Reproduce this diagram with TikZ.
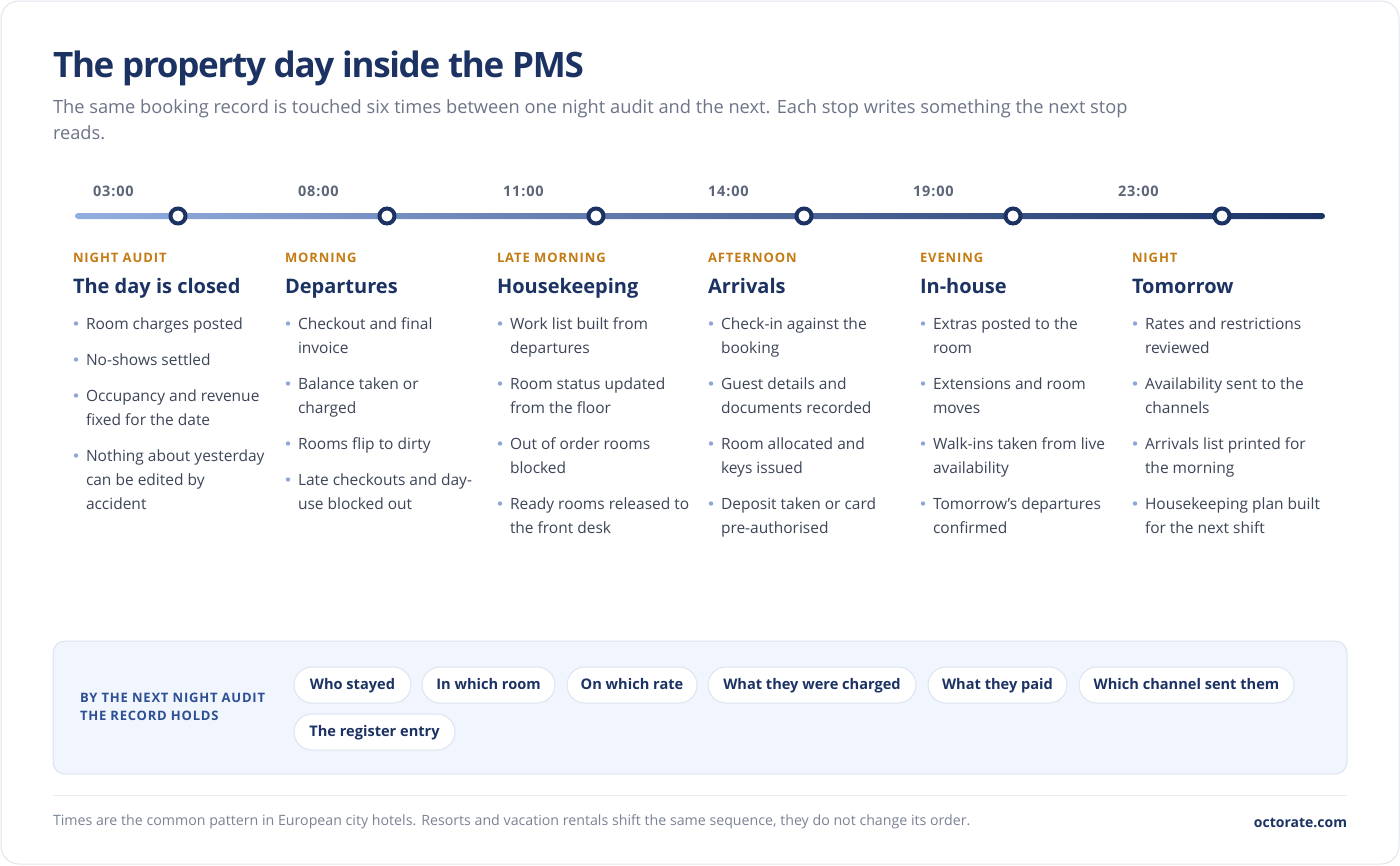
\documentclass[tikz,border=0pt]{standalone}
\usepackage{fontspec}
\setmainfont{Open Sans}
\definecolor{navy}{HTML}{1B3263}
\definecolor{orng}{HTML}{C47B14}
\definecolor{subg}{HTML}{6B7488}
\definecolor{bodyg}{HTML}{3C4558}
\definecolor{timeg}{HTML}{5D6678}
\definecolor{dotc}{HTML}{8EA6D8}
\definecolor{boxlbl}{HTML}{2D4F94}
\definecolor{boxfill}{HTML}{F1F5FD}
\definecolor{boxline}{HTML}{DDE4EF}
\definecolor{cardline}{HTML}{E3E6EE}
\definecolor{sepc}{HTML}{E8EBF0}
\definecolor{footg}{HTML}{7A8394}
\definecolor{tlL}{HTML}{93AEE0}
\definecolor{tlR}{HTML}{1B3366}
\newcounter{nc}
\newcommand{\bitem}[3]{\stepcounter{nc}%
  \fill[dotc] (#1+3,#2-5.5) circle (2.2);
  \node[btxt, anchor=base west] (b\arabic{nc}) at (#1+13,#2) {#3};}
\newcommand{\bcont}[3]{\stepcounter{nc}%
  \node[btxt, anchor=base west] (b\arabic{nc}) at (#1+13,#2) {#3};}
\begin{document}
\begin{tikzpicture}[x=1pt,y=-1pt,
  every node/.style={inner sep=0pt, outer sep=0pt},
  btxt/.style={font=\fontsize{15.5}{24}\selectfont, text=bodyg},
  timelbl/.style={font=\fontsize{14.5}{16}\selectfont\bfseries\addfontfeatures{LetterSpace=6}, text=timeg},
  phase/.style={font=\fontsize{13}{16}\selectfont\bfseries\addfontfeatures{LetterSpace=7}, text=orng},
  head/.style={font=\fontsize{20}{24}\selectfont\bfseries, text=navy},
  stop/.style={circle, draw=navy, line width=4pt, fill=white, minimum size=15pt},
  chip/.style={draw=boxline, line width=1pt, fill=white, rounded corners=18pt, minimum height=36pt,
    text height=11pt, text depth=3pt, font=\fontsize{14.6}{18}\selectfont\bfseries, text=navy}]
\useasboundingbox (0,0) rectangle (1400,865);
\fill[white] (0,0) rectangle (1400,865);
\draw[cardline, line width=1pt, fill=white, rounded corners=18pt] (1,1) rectangle (1399,864);

% title
\node[anchor=base west, font=\fontsize{35}{40}\selectfont\bfseries\addfontfeatures{LetterSpace=-3.7}, text=navy] (title) at (53,77) {The property day inside the PMS};
\node[anchor=base west, font=\fontsize{18.27}{25}\selectfont, text=subg] (sub1) at (53,113) {The same booking record is touched six times between one night audit and the next. Each stop writes something the next stop};
\node[anchor=base west, font=\fontsize{18.27}{25}\selectfont, text=subg] (sub2) at (53,139) {reads.};

% timeline
\shade[left color=tlL, right color=tlR, rounded corners=3pt] (75,213) rectangle (1325,219);
\foreach \x/\lx/\t [count=\i] in {178/93/03:00,387/298/08:00,596/503/11:00,804/708/14:00,1013/913/19:00,1222/1118/23:00}{
  \node[stop] (s\i) at (\x,216) {};
  \node[timelbl, anchor=base west] (t\i) at (\lx,196) {\t};
}

% columns
\foreach \x/\p/\h [count=\i] in {73/NIGHT AUDIT/The day is closed,285/MORNING/Departures,497/LATE MORNING/Housekeeping,708/AFTERNOON/Arrivals,920/EVENING/In-house,1132/NIGHT/Tomorrow}{
  \node[phase, anchor=base west] (p\i) at (\x,262.5) {\p};
  \node[head, anchor=base west] (h\i) at (\x,293) {\h};
}

% column 1
\bitem{73}{329}{Room charges posted}
\bitem{73}{365}{No-shows settled}
\bitem{73}{401}{Occupancy and revenue}
\bcont{73}{425}{fixed for the date}
\bitem{73}{461}{Nothing about yesterday}
\bcont{73}{485}{can be edited by}
\bcont{73}{509}{accident}
% column 2
\bitem{285}{329}{Checkout and final}
\bcont{285}{353}{invoice}
\bitem{285}{389}{Balance taken or}
\bcont{285}{413}{charged}
\bitem{285}{449}{Rooms flip to dirty}
\bitem{285}{485}{Late checkouts and day-}
\bcont{285}{509}{use blocked out}
% column 3
\bitem{497}{329}{Work list built from}
\bcont{497}{353}{departures}
\bitem{497}{389}{Room status updated}
\bcont{497}{413}{from the floor}
\bitem{497}{449}{Out of order rooms}
\bcont{497}{473}{blocked}
\bitem{497}{509}{Ready rooms released to}
\bcont{497}{533}{the front desk}
% column 4
\bitem{708}{329}{Check-in against the}
\bcont{708}{353}{booking}
\bitem{708}{389}{Guest details and}
\bcont{708}{413}{documents recorded}
\bitem{708}{449}{Room allocated and}
\bcont{708}{473}{keys issued}
\bitem{708}{509}{Deposit taken or card}
\bcont{708}{533}{pre-authorised}
% column 5
\bitem{920}{329}{Extras posted to the}
\bcont{920}{353}{room}
\bitem{920}{389}{Extensions and room}
\bcont{920}{413}{moves}
\bitem{920}{449}{Walk-ins taken from live}
\bcont{920}{473}{availability}
\bitem{920}{509}{Tomorrow's departures}
\bcont{920}{533}{confirmed}
% column 6
\bitem{1132}{329}{Rates and restrictions}
\bcont{1132}{353}{reviewed}
\bitem{1132}{389}{Availability sent to the}
\bcont{1132}{413}{channels}
\bitem{1132}{449}{Arrivals list printed for}
\bcont{1132}{473}{the morning}
\bitem{1132}{509}{Housekeeping plan built}
\bcont{1132}{533}{for the next shift}

% bottom box
\draw[boxline, line width=1pt, fill=boxfill, rounded corners=12pt] (53,641) rectangle (1347,774);
\node[anchor=base west, font=\fontsize{13}{18}\selectfont\bfseries\addfontfeatures{LetterSpace=6}, text=boxlbl] (bl1) at (80,702.5) {BY THE NEXT NIGHT AUDIT};
\node[anchor=base west, font=\fontsize{13}{18}\selectfont\bfseries\addfontfeatures{LetterSpace=6}, text=boxlbl] (bl2) at (80,720.5) {THE RECORD HOLDS};
\node[chip, minimum width=117pt] (c1) at (352.5,685) {Who stayed};
\node[chip, minimum width=133pt] (c2) at (488.5,685) {In which room};
\node[chip, minimum width=130pt] (c3) at (632,685) {On which rate};
\node[chip, minimum width=208pt] (c4) at (812,685) {What they were charged};
\node[chip, minimum width=139pt] (c5) at (997.5,685) {What they paid};
\node[chip, minimum width=215pt] (c6) at (1186.5,685) {Which channel sent them};
\node[chip, minimum width=161pt] (c7) at (374.5,732) {The register entry};

% footer
\draw[sepc, line width=1pt] (53,795) -- (1347,795);
\node[anchor=base west, font=\fontsize{14.2}{16}\selectfont, text=footg] (foot) at (53,825) {Times are the common pattern in European city hotels. Resorts and vacation rentals shift the same sequence, they do not change its order.};
\node[anchor=base east, font=\fontsize{14}{16}\selectfont\bfseries, text=navy] (brand) at (1347,827) {octorate.com};
\end{tikzpicture}
\end{document}
